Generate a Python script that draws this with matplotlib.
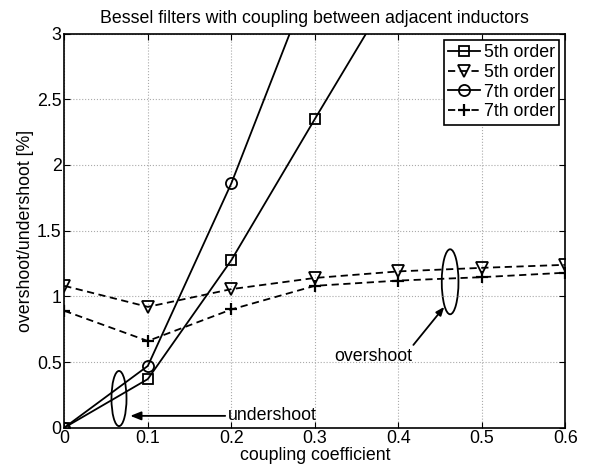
import matplotlib.pyplot as plt
from matplotlib.patches import Ellipse

plt.rcParams['font.family'] = ['Liberation Sans', 'DejaVu Sans']

# data
coupling = [0, 0.1, 0.2, 0.3, 0.4, 0.5, 0.6]
under_5th = [0.0, 0.37, 1.275, 2.35, 3.41]
over_5th = [1.08, 0.92, 1.055, 1.14, 1.19, 1.217, 1.24]
under_7th = [0.0, 0.47, 1.86, 3.49]
over_7th = [0.89, 0.66, 0.90, 1.08, 1.12, 1.146, 1.18]

fs = 12.8

fig = plt.figure(figsize=(5.92, 4.74), dpi=100)
ax = fig.add_axes([0.1086, 0.0977, 0.8464, 0.8313])

ax.plot(coupling[:len(under_5th)], under_5th, 'k-s', lw=1.3, ms=7, mfc='none', mew=1.3, label='5th order')
ax.plot(coupling, over_5th, 'k--v', lw=1.3, ms=8, mfc='none', mew=1.3, dashes=(4, 2.5), label='5th order')
ax.plot(coupling[:len(under_7th)], under_7th, 'k-o', lw=1.3, ms=8, mfc='none', mew=1.3, label='7th order')
ax.plot(coupling, over_7th, 'k--+', lw=1.3, ms=9, mew=1.6, dashes=(4, 2.5), label='7th order')

ax.set_xlim(0, 0.6)
ax.set_ylim(0, 3)
ax.set_xticks(coupling)
ax.set_xticklabels(['0', '0.1', '0.2', '0.3', '0.4', '0.5', '0.6'])
ax.set_yticks([0, 0.5, 1, 1.5, 2, 2.5, 3])
ax.set_yticklabels(['0', '0.5', '1', '1.5', '2', '2.5', '3'])
ax.tick_params(direction='in', top=True, right=True, labelsize=fs, length=4, pad=2)
ax.grid(True, linestyle=':', color='#aaaaaa', lw=0.8)
for s in ax.spines.values():
    s.set_linewidth(1.2)

# annotations
ax.add_patch(Ellipse((0.0655, 0.222), 0.018, 0.42, fill=False, ec='k', lw=1.3))
ax.annotate('undershoot', xy=(0.079, 0.09), xytext=(0.196, 0.09), fontsize=fs,
            va='center', ha='left',
            arrowprops=dict(arrowstyle='-|>,head_length=0.5,head_width=0.2', color='k', lw=1.3,
                            shrinkA=0, shrinkB=0))
ax.add_patch(Ellipse((0.462, 1.111), 0.02, 0.495, fill=False, ec='k', lw=1.3))
ax.annotate('', xy=(0.455, 0.92), xytext=(0.418, 0.63),
            arrowprops=dict(arrowstyle='-|>,head_length=0.5,head_width=0.2', color='k', lw=1.3,
                            shrinkA=0, shrinkB=0))
ax.text(0.37, 0.54, 'overshoot', fontsize=fs, ha='center', va='center')

leg = ax.legend(loc='upper right', fontsize=fs, fancybox=False, edgecolor='k',
                framealpha=1, handlelength=1.8, borderpad=0.25, labelspacing=0.15,
                handletextpad=0.2, borderaxespad=0.35)
leg.get_frame().set_linewidth(1.2)

ax.set_title('Bessel filters with coupling between adjacent inductors', fontsize=fs, pad=8)
ax.set_xlabel('coupling coefficient', fontsize=fs, labelpad=0)
ax.set_ylabel('overshoot/undershoot [%]', fontsize=fs, labelpad=2)

fig.savefig('out.png', dpi=100)
